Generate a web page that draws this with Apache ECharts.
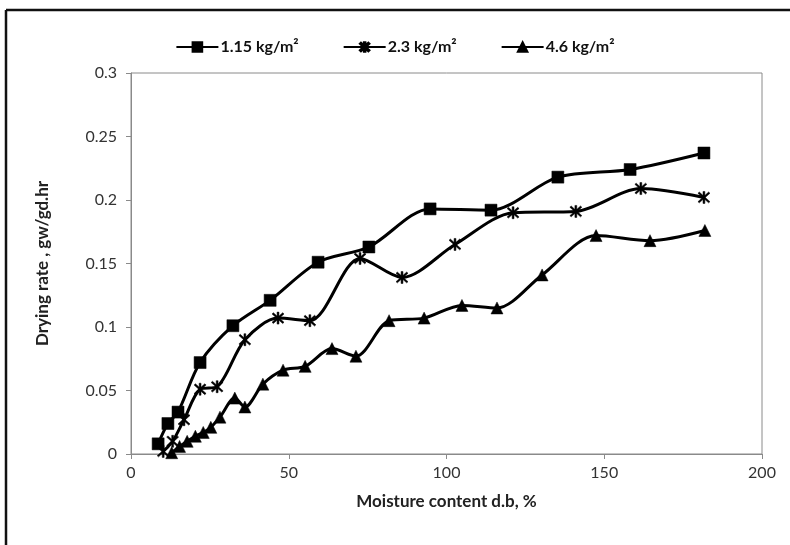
<!DOCTYPE html>
<html>
<head>
<meta charset="utf-8">
<script src="https://cdn.jsdelivr.net/npm/echarts@6/dist/echarts.min.js"></script>
<style>
  html, body { margin: 0; padding: 0; background: #fff; }
  #chart { width: 790px; height: 545px; }
</style>
</head>
<body>
<div id="chart"></div>
<script>
var seriesNames = ["1.15 kg/m\u00b2", "2.3 kg/m\u00b2", "4.6 kg/m\u00b2"];

// [moisture content d.b %, drying rate gw/gd.hr]
var load115 = [[8.6, 0.008], [11.7, 0.024], [14.9, 0.033], [21.9, 0.072], [32.3, 0.101],
    [44.1, 0.121], [59.3, 0.151], [75.4, 0.163], [94.8, 0.193], [114.1, 0.192],
    [135.3, 0.218], [158.2, 0.224], [181.6, 0.237]];
var load23 = [[10.2, 0.002], [13.2, 0.010], [16.8, 0.027], [21.9, 0.051], [27.3, 0.053],
    [36.1, 0.090], [46.6, 0.107], [56.7, 0.105], [72.6, 0.154], [85.9, 0.139],
    [102.7, 0.165], [121.1, 0.190], [141.0, 0.191], [161.6, 0.209], [181.6, 0.202]];
var load46 = [[12.9, 0.001], [15.4, 0.006], [17.8, 0.010], [20.4, 0.014], [22.9, 0.017],
    [25.3, 0.021], [28.2, 0.029], [32.9, 0.044], [36.1, 0.037], [41.8, 0.055],
    [48.2, 0.066], [55.2, 0.069], [63.7, 0.083], [71.3, 0.077], [81.8, 0.105],
    [92.9, 0.107], [104.9, 0.117], [116.0, 0.115], [130.3, 0.141], [147.4, 0.172],
    [164.5, 0.168], [181.9, 0.176]];

var xTicks = [0, 50, 100, 150, 200];
var yTicks = [0, 0.05, 0.1, 0.15, 0.2, 0.25, 0.3];

// asterisk marker (x with a vertical bar)
var starPath = 'path://M4.3,0 L5.7,0 L5.7,10 L4.3,10 Z M0.5,1.5 L1.5,0.5 L9.5,8.5 L8.5,9.5 Z M8.5,0.5 L9.5,1.5 L1.5,9.5 L0.5,8.5 Z';

var chart = echarts.init(document.getElementById('chart'));

function makeSeries(name, data, symbol, size) {
    return {
        name: name,
        type: 'line',
        data: data,
        smooth: 0.3,
        symbol: symbol,
        symbolSize: size,
        showAllSymbol: true,
        lineStyle: { color: '#000', width: 3 },
        itemStyle: { color: '#000', borderColor: '#000', borderWidth: 0.5 },
        emphasis: { disabled: true }
    };
}

chart.setOption({
    animation: false,
    textStyle: { fontFamily: 'Lato' },
    graphic: [
        { type: 'line', shape: { x1: 6, y1: 10, x2: 790, y2: 10 }, style: { stroke: '#111', lineWidth: 2.5 } },
        { type: 'line', shape: { x1: 6, y1: 10, x2: 6, y2: 545 }, style: { stroke: '#111', lineWidth: 2.5 } }
    ],
    legend: {
        top: 34,
        left: 'center',
        itemWidth: 42,
        itemHeight: 12,
        itemGap: 44,
        data: seriesNames,
        textStyle: { fontFamily: 'Lato', fontSize: 16, fontWeight: 'bold', color: '#111', padding: [0, 0, 0, -3] }
    },
    grid: {
        left: 131, right: 28, top: 73, bottom: 91,
        show: true, borderColor: '#8a8a8a', borderWidth: 1
    },
    xAxis: {
        type: 'value',
        min: 0, max: 200, interval: 50,
        name: 'Moisture content d.b, %',
        nameLocation: 'middle',
        nameGap: 39,
        nameTextStyle: { fontFamily: 'Lato', fontSize: 17, fontWeight: 'bold', color: '#222' },
        axisLine: { lineStyle: { color: '#8a8a8a', width: 1 } },
        axisTick: { show: true, length: 5, lineStyle: { color: '#8a8a8a' } },
        axisLabel: { fontSize: 16, color: '#333', margin: 11,
            formatter: function (v) { return xTicks.indexOf(v) >= 0 ? String(v) : ''; } },
        splitLine: { show: false }
    },
    yAxis: {
        type: 'value',
        min: 0, max: 0.3, interval: 0.05,
        name: 'Drying rate , gw/gd.hr',
        nameLocation: 'middle',
        nameGap: 80,
        nameTextStyle: { fontFamily: 'Lato', fontSize: 17, fontWeight: 'bold', color: '#222' },
        axisLine: { show: true, lineStyle: { color: '#8a8a8a', width: 1 } },
        axisTick: { show: true, length: 5, lineStyle: { color: '#8a8a8a' } },
        axisLabel: { fontSize: 16, color: '#333', margin: 14,
            formatter: function (v) {
                var r = Math.round(v * 100) / 100;
                return yTicks.indexOf(r) >= 0 ? String(r) : '';
            } },
        splitLine: { show: false }
    },
    series: [
        makeSeries(seriesNames[0], load115, 'rect', 12),
        makeSeries(seriesNames[1], load23, starPath, 12),
        makeSeries(seriesNames[2], load46, 'triangle', 12)
    ]
});

window.addEventListener('resize', function () {
    chart.resize();
});
</script>
</body>
</html>
